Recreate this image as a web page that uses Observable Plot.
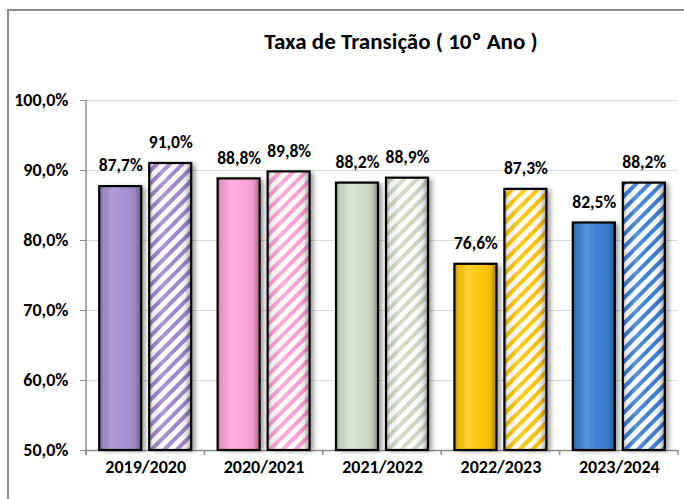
<!DOCTYPE html>
<html>
<head>
<meta charset="utf-8">
<script src="https://cdn.jsdelivr.net/npm/d3@7"></script>
<script src="https://cdn.jsdelivr.net/npm/@observablehq/plot@0.6"></script>
<style>
  html, body { margin: 0; padding: 0; background: #fff; }
  #wrap { position: relative; width: 684px; height: 499px; overflow: hidden; font-family: Carlito, Lato, "Open Sans", sans-serif; }
  #border { position: absolute; left: 7px; top: 9px; width: 730px; height: 560px; border: 2px solid #8c8c8c; box-sizing: border-box; pointer-events: none; }
  #title { position: absolute; left: 101px; width: 600px; top: 27px; text-align: center; font-weight: bold; font-size: 23px; color: #000; }
  #chart { position: absolute; left: 0; top: 0; }
</style>
</head>
<body>
<div id="wrap">
  <div id="border"></div>
  <div id="chart"></div>
  <div id="title">Taxa de Transição ( 10º Ano )</div>
</div>
<script>
// ---- data ----
const categories = ["2019/2020", "2020/2021", "2021/2022", "2022/2023", "2023/2024"];
const seriesSolid = [87.7, 88.8, 88.2, 76.6, 82.5];
const seriesHatched = [91.0, 89.8, 88.9, 87.3, 88.2];
const barColors = ["#a690d0", "#ffa2d7", "#d3dcc5", "#ffc80a", "#3a80d6"];
const stripeColors = ["#9f86cd", "#ff9fd4", "#cdd8bf", "#ffc400", "#3a80d6"];
const yTicks = [50, 60, 70, 80, 90, 100];
const seriesKeys = ["a", "b"];

const fmt = v => v.toFixed(1).replace(".", ",") + "%";
const rows = categories.flatMap((c, i) => [
  {cat: c, s: seriesKeys[0], v: seriesSolid[i], fill: barColors[i]},
  {cat: c, s: seriesKeys[1], v: seriesHatched[i], fill: `url(#hatch${i})`}
]);
const base = yTicks[0];

const font = "Carlito, Lato, 'Open Sans', sans-serif";

const plot = Plot.plot({
  width: 684,
  height: 499,
  marginTop: 100,
  marginBottom: 49,
  marginLeft: 86,
  marginRight: 6,
  style: {fontFamily: font, background: "transparent", color: "#000", overflow: "visible"},
  fx: {domain: categories, padding: 0, round: false, label: null},
  x: {domain: seriesKeys, paddingInner: 0.16, paddingOuter: 0.264, round: false, axis: null},
  y: {domain: [yTicks[0], yTicks[yTicks.length - 1]], label: null},
  color: {type: "identity"},
  marks: [
    Plot.gridY({ticks: yTicks, stroke: "#d9d9d9", strokeOpacity: 1, strokeWidth: 1}),
    Plot.ruleY([base], {stroke: "#8c8c8c", strokeWidth: 1.5}),
    Plot.axisY({ticks: yTicks, tickFormat: fmt, tickSize: 6, tickPadding: 12, stroke: "#8c8c8c", fill: "#000",
                fontSize: 18, fontWeight: "bold", label: null}),
    Plot.axisFx({anchor: "bottom", tickSize: 0, tickPadding: 10, fontSize: 18, fontWeight: "bold", label: null, fill: "#000"}),
    Plot.barY(rows, {fx: "cat", x: "s", y1: base, y2: "v", fill: "fill", className: "mainbar"}),
    Plot.barY(rows, {fx: "cat", x: "s", y1: base, y2: "v", fill: "url(#sideShade)"}),
    Plot.barY(rows, {fx: "cat", x: "s", y1: base, y2: "v", fill: "none", stroke: "#000", strokeWidth: 2.2}),
    Plot.text(rows, {fx: "cat", x: "s", y: "v", text: d => fmt(d.v), dy: -21, fontSize: 17.5, fontWeight: "bold", fill: "#000"})
  ]
});

document.getElementById("chart").appendChild(plot);

// ---- defs: hatching patterns, shading, shadow ----
const svg = d3.select(plot);
const defs = svg.insert("defs", ":first-child");
stripeColors.forEach((c, i) => {
  const p = defs.append("pattern")
    .attr("id", `hatch${i}`)
    .attr("patternUnits", "userSpaceOnUse")
    .attr("width", 9).attr("height", 9)
    .attr("patternTransform", "rotate(45)");
  p.append("rect").attr("width", 9).attr("height", 9).attr("fill", "#fff");
  p.append("rect").attr("width", 4).attr("height", 9).attr("fill", c);
});
const g = defs.append("linearGradient").attr("id", "sideShade").attr("x1", 0).attr("x2", 1).attr("y1", 0).attr("y2", 0);
[[0, "#000", 0.3], [0.1, "#000", 0.06], [0.3, "#fff", 0.15], [0.6, "#fff", 0.0], [0.86, "#000", 0.08], [1, "#000", 0.35]]
  .forEach(([o, c, a]) => g.append("stop").attr("offset", o).attr("stop-color", c).attr("stop-opacity", a));
const f = defs.append("filter").attr("id", "shadow").attr("x", "-20%").attr("y", "-10%").attr("width", "150%").attr("height", "130%");
f.append("feDropShadow").attr("dx", 4).attr("dy", 1).attr("stdDeviation", 2.5).attr("flood-color", "#000").attr("flood-opacity", 0.4);
svg.selectAll("g.mainbar rect, .mainbar rect").attr("filter", "url(#shadow)");

// ---- axis lines and category boundary ticks from the library's scales ----
const fx = plot.scale("fx");
const y = plot.scale("y");
const y0 = y.apply(base), y1 = y.apply(yTicks[yTicks.length - 1]);
const left = fx.range[0], right = fx.range[1];
const axisG = svg.append("g").attr("stroke", "#8c8c8c").attr("stroke-width", 1.5);
axisG.append("line").attr("x1", left).attr("x2", left).attr("y1", y0 + 5).attr("y2", y1);
const bounds = categories.map(c => fx.apply(c)).concat([right]);
bounds.forEach(b => axisG.append("line").attr("x1", b).attr("x2", b).attr("y1", y0).attr("y2", y0 + 5));
</script>
</body>
</html>
